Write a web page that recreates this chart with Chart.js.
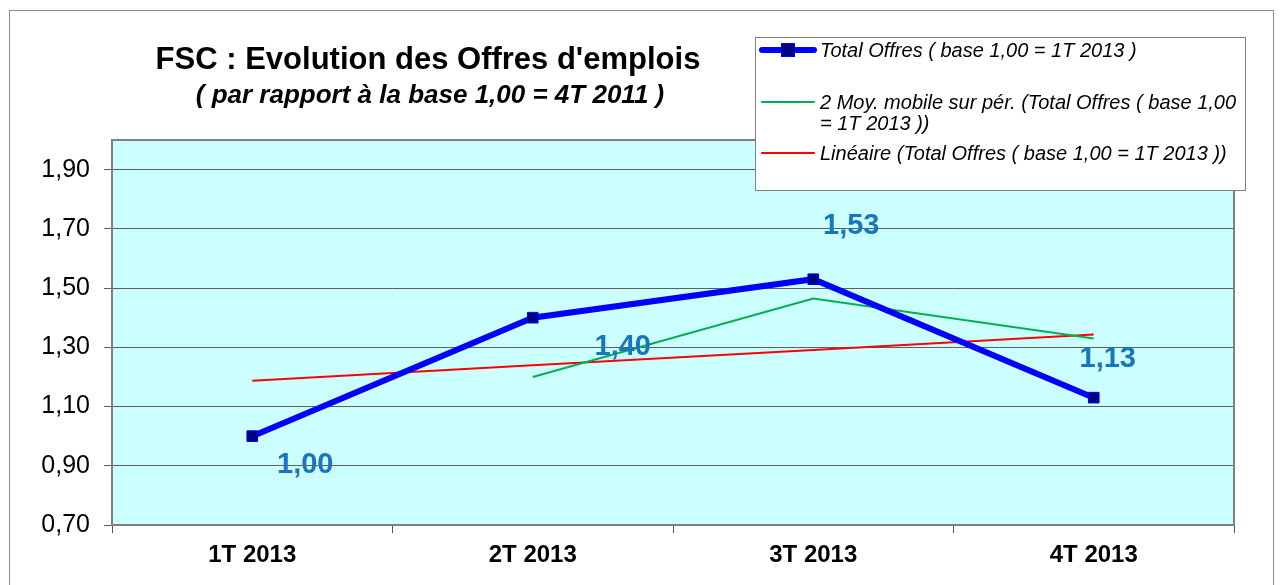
<!DOCTYPE html>
<html lang="fr">
<head>
<meta charset="UTF-8">
<title>FSC : Evolution des Offres d'emplois</title>
<script src="https://cdn.jsdelivr.net/npm/chart.js"></script>
<style>
  html, body { margin: 0; padding: 0; background: #ffffff; }
  #wrap { width: 1283px; height: 585px; position: relative; }
</style>
</head>
<body>
<div id="wrap"><canvas id="offresChart" width="1283" height="585"></canvas></div>
<script>
// ---- data ----
const quarters = ['1T 2013', '2T 2013', '3T 2013', '4T 2013'];
const totalOffres = [1.00, 1.40, 1.53, 1.13];
const moyMobile = [null, 1.20, 1.465, 1.33];
const lineaire = [1.187, 1.239, 1.291, 1.343];
const yTicks = [0.70, 0.90, 1.10, 1.30, 1.50, 1.70, 1.90];

const titleText = "FSC : Evolution des Offres d'emplois";
const subtitleText = "( par rapport à la base 1,00 = 4T 2011 )";
const legendLines = [
  ['Total Offres ( base 1,00 = 1T 2013 )'],
  ['2 Moy. mobile sur pér. (Total Offres ( base 1,00', '= 1T 2013 ))'],
  ['Linéaire (Total Offres ( base 1,00 = 1T 2013 ))']
];
// label offsets (manual placement like in the original sheet)
const labelShift = [[53, 29], [90, 29], [38, -53], [14, -39]];

const FONT = "'Liberation Sans', Arial, sans-serif";

function fmt(v) { return v.toFixed(2).replace('.', ','); }

// background, frame, titles, labels, legend
const decorPlugin = {
  id: 'decor',
  beforeDraw(chart) {
    const ctx = chart.ctx, a = chart.chartArea;
    ctx.save();
    ctx.fillStyle = '#ffffff';
    ctx.fillRect(0, 0, chart.width, chart.height);
    ctx.strokeStyle = '#8c8c8c';
    ctx.lineWidth = 1;
    ctx.strokeRect(9.5, 10.5, 1264, 600);
    ctx.fillStyle = '#ccffff';
    ctx.fillRect(a.left, a.top, a.right - a.left, a.bottom - a.top);
    ctx.fillStyle = '#000000';
    ctx.textAlign = 'center';
    ctx.textBaseline = 'alphabetic';
    ctx.font = 'bold 31px ' + FONT;
    ctx.fillText(titleText, 428, 69);
    ctx.font = 'italic bold 26px ' + FONT;
    ctx.fillText(subtitleText, 430, 103);
    ctx.restore();
  },
  beforeDatasetsDraw(chart) {
    const ctx = chart.ctx, a = chart.chartArea;
    ctx.save();
    ctx.strokeStyle = '#808080';
    ctx.lineWidth = 2;
    ctx.strokeRect(a.left, a.top, a.right - a.left, a.bottom - a.top);
    ctx.restore();
  },
  afterDatasetsDraw(chart) {
    const ctx = chart.ctx;
    const meta = chart.getDatasetMeta(0);
    ctx.save();
    ctx.fillStyle = '#1a75bc';
    ctx.font = 'bold 29px ' + FONT;
    ctx.textAlign = 'center';
    ctx.textBaseline = 'middle';
    meta.data.forEach((pt, i) => {
      ctx.fillText(fmt(totalOffres[i]), pt.x + labelShift[i][0], pt.y + labelShift[i][1]);
    });
    ctx.restore();
  },
  afterDraw(chart) {
    // legend box
    const ctx = chart.ctx;
    ctx.save();
    ctx.fillStyle = '#ffffff';
    ctx.fillRect(755, 37, 490, 153);
    ctx.strokeStyle = '#808080';
    ctx.lineWidth = 1;
    ctx.strokeRect(755.5, 37.5, 490, 153);
    const ys = [50, 102, 153];
    const colors = ['#0000ff', '#00b050', '#ff0000'];
    const widths = [6, 2, 2];
    ys.forEach((y, i) => {
      ctx.strokeStyle = colors[i];
      ctx.lineWidth = widths[i];
      ctx.lineCap = 'round';
      ctx.beginPath();
      ctx.moveTo(762, y);
      ctx.lineTo(814, y);
      ctx.stroke();
      if (i === 0) {
        ctx.fillStyle = '#000080';
        ctx.fillRect(781, y - 7, 14, 14);
        ctx.strokeStyle = '#0000ff';
        ctx.lineWidth = 1;
        ctx.strokeRect(781.5, y - 6.5, 13, 13);
      }
      ctx.fillStyle = '#000000';
      ctx.font = 'italic 20px ' + FONT;
      ctx.textAlign = 'left';
      ctx.textBaseline = 'middle';
      legendLines[i].forEach((t, k) => ctx.fillText(t, 820, y + 1 + k * 21));
    });
    ctx.restore();
  }
};

new Chart(document.getElementById('offresChart'), {
  type: 'line',
  data: {
    labels: quarters,
    datasets: [
      {
        label: legendLines[0][0],
        data: totalOffres,
        borderColor: '#0000ff',
        borderWidth: 6,
        pointStyle: 'rect',
        pointRadius: 7.5,
        pointBackgroundColor: '#000080',
        pointBorderColor: '#0000ff',
        pointBorderWidth: 1,
        tension: 0,
        order: 0
      },
      {
        label: legendLines[1].join(' '),
        data: moyMobile,
        borderColor: '#00b050',
        borderWidth: 2,
        pointRadius: 0,
        tension: 0,
        order: 1
      },
      {
        label: legendLines[2][0],
        data: lineaire,
        borderColor: '#ff0000',
        borderWidth: 2,
        pointRadius: 0,
        tension: 0,
        order: 2
      }
    ]
  },
  options: {
    responsive: false,
    animation: false,
    layout: { padding: { left: 0, top: 140, right: 49, bottom: 0 } },
    plugins: {
      legend: { display: false },
      title: { display: false },
      tooltip: { enabled: false }
    },
    scales: {
      x: {
        offset: true,
        grid: { drawOnChartArea: false, drawTicks: true, tickLength: 8, color: '#555555', offset: true },
        border: { display: false },
        ticks: { color: '#000000', font: { family: FONT, size: 24, weight: 'bold' }, padding: 8, maxRotation: 0 },
        afterFit(s) { s.height = 60; }
      },
      y: {
        min: 0.70,
        max: 2.00,
        grid: {
          color: (c) => (c.tick && c.tick.value > 1.95 ? 'rgba(0,0,0,0)' : '#606060'),
          tickLength: 8,
          lineWidth: 1
        },
        border: { display: false },
        afterBuildTicks(s) { s.ticks = yTicks.map(v => ({ value: v })).concat([{ value: 2.0 }]); },
        ticks: {
          color: '#000000',
          font: { family: FONT, size: 25 },
          padding: 14,
          callback: (v) => (v > 1.95 ? '' : fmt(v))
        },
        afterFit(s) { s.width = 112; }
      }
    }
  },
  plugins: [decorPlugin]
});
</script>
</body>
</html>
